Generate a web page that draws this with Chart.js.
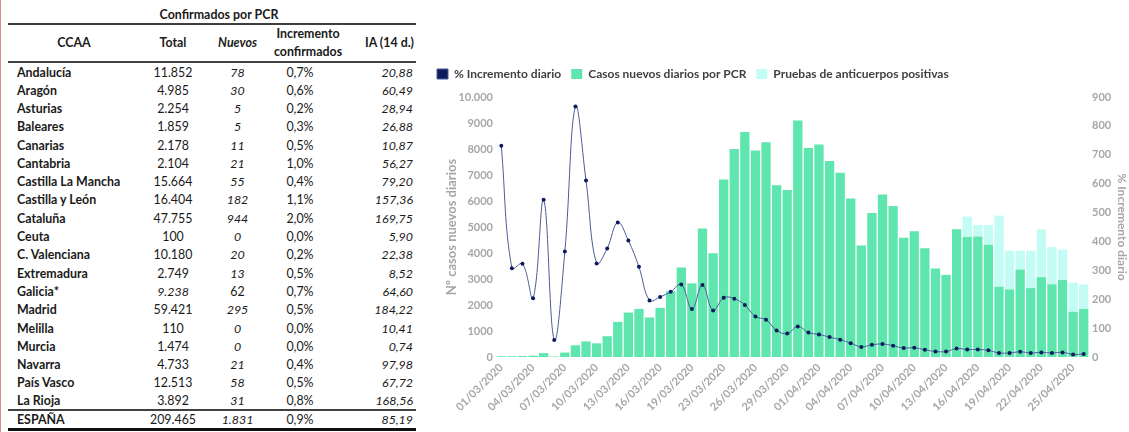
<!DOCTYPE html>
<html>
<head>
<meta charset="utf-8">
<script src="https://cdn.jsdelivr.net/npm/chart.js@4.4.1/dist/chart.umd.min.js"></script>
<style>
  html, body { margin: 0; padding: 0; background: #fff; }
  body { width: 1129px; height: 432px; position: relative; overflow: hidden; font-family: Lato, "Open Sans", sans-serif; }
  #marco { position: absolute; left: 0; top: 0; width: 1px; height: 432px; background: #d98b8b; }
  #titulo { position: absolute; left: 119px; top: 7px; width: 200px; text-align: center; font-weight: bold; font-size: 12.4px; color: #1a1a1a; }
  table { position: absolute; left: 8px; top: 23px; width: 408px; border-collapse: collapse; table-layout: fixed; font-size: 12.4px; color: #1a1a1a; }
  thead tr { height: 38px; border-top: 2px solid #404040; border-bottom: 2px solid #404040; }
  thead th { font-weight: bold; line-height: 18px; padding: 0; }
  tbody tr { height: 18.3px; }
  td { padding: 0; line-height: 17px; white-space: nowrap; }
  td.n { font-weight: bold; padding-left: 9px; }
  td.t { text-align: center; }
  td.nv { text-align: center; font-style: italic; }
  td.inc { text-align: center; padding-right: 32px; }
  td.ia { text-align: right; font-style: italic; padding-right: 3px; }
  tfoot tr { height: 16px; border-top: 2px solid #404040; border-bottom: 3px solid #111; }
  tbody tr:first-child td { padding-top: 1px; }
  #grafico { position: absolute; left: 427px; top: 58px; }
</style>
</head>
<body>
<div id="marco"></div>
<div id="titulo">Confirmados por PCR</div>
<table>
  <colgroup><col style="width:132px"><col style="width:66px"><col style="width:63px"><col style="width:94px"><col style="width:53px"></colgroup>
  <thead>
    <tr><th>CCAA</th><th>Total</th><th><i>Nuevos</i></th><th style="padding-right:16px">Incremento<br>confirmados</th><th>IA (14 d.)</th></tr>
  </thead>
  <tbody>
    <tr><td class="n">Andalucía</td><td class="t">11.852</td><td class="nv">78</td><td class="inc">0,7%</td><td class="ia">20,88</td></tr>
    <tr><td class="n">Aragón</td><td class="t">4.985</td><td class="nv">30</td><td class="inc">0,6%</td><td class="ia">60,49</td></tr>
    <tr><td class="n">Asturias</td><td class="t">2.254</td><td class="nv">5</td><td class="inc">0,2%</td><td class="ia">28,94</td></tr>
    <tr><td class="n">Baleares</td><td class="t">1.859</td><td class="nv">5</td><td class="inc">0,3%</td><td class="ia">26,88</td></tr>
    <tr><td class="n">Canarias</td><td class="t">2.178</td><td class="nv">11</td><td class="inc">0,5%</td><td class="ia">10,87</td></tr>
    <tr><td class="n">Cantabria</td><td class="t">2.104</td><td class="nv">21</td><td class="inc">1,0%</td><td class="ia">56,27</td></tr>
    <tr><td class="n">Castilla La Mancha</td><td class="t">15.664</td><td class="nv">55</td><td class="inc">0,4%</td><td class="ia">79,20</td></tr>
    <tr><td class="n">Castilla y León</td><td class="t">16.404</td><td class="nv">182</td><td class="inc">1,1%</td><td class="ia">157,36</td></tr>
    <tr><td class="n">Cataluña</td><td class="t">47.755</td><td class="nv">944</td><td class="inc">2,0%</td><td class="ia">169,75</td></tr>
    <tr><td class="n">Ceuta</td><td class="t">100</td><td class="nv">0</td><td class="inc">0,0%</td><td class="ia">5,90</td></tr>
    <tr><td class="n">C. Valenciana</td><td class="t">10.180</td><td class="nv">20</td><td class="inc">0,2%</td><td class="ia">22,38</td></tr>
    <tr><td class="n">Extremadura</td><td class="t">2.749</td><td class="nv">13</td><td class="inc">0,5%</td><td class="ia">8,52</td></tr>
    <tr><td class="n">Galicia*</td><td class="t"><i>9.238</i></td><td class="t">62</td><td class="inc">0,7%</td><td class="ia">64,60</td></tr>
    <tr><td class="n">Madrid</td><td class="t">59.421</td><td class="nv">295</td><td class="inc">0,5%</td><td class="ia">184,22</td></tr>
    <tr><td class="n">Melilla</td><td class="t">110</td><td class="nv">0</td><td class="inc">0,0%</td><td class="ia">10,41</td></tr>
    <tr><td class="n">Murcia</td><td class="t">1.474</td><td class="nv">0</td><td class="inc">0,0%</td><td class="ia">0,74</td></tr>
    <tr><td class="n">Navarra</td><td class="t">4.733</td><td class="nv">21</td><td class="inc">0,4%</td><td class="ia">97,98</td></tr>
    <tr><td class="n">País Vasco</td><td class="t">12.513</td><td class="nv">58</td><td class="inc">0,5%</td><td class="ia">67,72</td></tr>
    <tr><td class="n">La Rioja</td><td class="t">3.892</td><td class="nv">31</td><td class="inc">0,8%</td><td class="ia">168,56</td></tr>
  </tbody>
  <tfoot>
    <tr><td class="n">ESPAÑA</td><td class="t">209.465</td><td class="nv">1.831</td><td class="inc">0,9%</td><td class="ia">85,19</td></tr>
  </tfoot>
</table>
<canvas id="grafico" width="702" height="374"></canvas>
<script>
// fechas del eje x (falta el 22/03 en el original)
const fechas = [
  '01/03/2020', '02/03/2020', '03/03/2020', '04/03/2020', '05/03/2020', '06/03/2020', '07/03/2020',
  '08/03/2020', '09/03/2020', '10/03/2020', '11/03/2020', '12/03/2020', '13/03/2020', '14/03/2020',
  '15/03/2020', '16/03/2020', '17/03/2020', '18/03/2020', '19/03/2020', '20/03/2020', '21/03/2020',
  '23/03/2020', '24/03/2020', '25/03/2020', '26/03/2020', '27/03/2020', '28/03/2020', '29/03/2020',
  '30/03/2020', '31/03/2020', '01/04/2020', '02/04/2020', '03/04/2020', '04/04/2020', '05/04/2020',
  '06/04/2020', '07/04/2020', '08/04/2020', '09/04/2020', '10/04/2020', '11/04/2020', '12/04/2020',
  '13/04/2020', '14/04/2020', '15/04/2020', '16/04/2020', '17/04/2020', '18/04/2020', '19/04/2020',
  '20/04/2020', '21/04/2020', '22/04/2020', '23/04/2020', '24/04/2020', '25/04/2020', '26/04/2020'
];

const casosPCR = [
  30, 30, 40, 50, 150, 20, 170, 450, 600, 525, 800, 1350, 1710, 1850,
  1520, 1890, 2530, 3440, 2830, 4940, 3990, 6830, 8000, 8650, 7940, 8260,
  6610, 6420, 9100, 8040, 8170, 7540, 7090, 6100, 4290, 5540, 6250, 5810,
  4590, 4840, 4180, 3400, 3160, 4910, 4620, 4630, 4320, 2700, 2600, 3370,
  2650, 3070, 2800, 2960, 1740, 1850
];

const anticuerpos = [
  0, 0, 0, 0, 0, 0, 0, 0, 0, 0, 0, 0, 0, 0,
  0, 0, 0, 0, 0, 0, 0, 0, 0, 0, 0, 0, 0, 0,
  0, 0, 0, 0, 0, 0, 0, 0, 0, 0, 0, 0, 0, 0,
  0, 0, 780, 450, 760, 2740, 1490, 720, 1440, 1840, 1430, 1170, 1120, 940
];

const incremento = [
  731, 307, 323, 203, 544, 59, 365, 867, 611, 324, 376, 466, 403, 312,
  196, 208, 226, 251, 166, 249, 161, 205, 202, 180, 140, 129, 92, 81,
  106, 85, 78, 69, 60, 48, 35, 42, 45, 39, 31, 32, 25, 19, 19, 29,
  26, 26, 23, 14, 14, 18, 14, 16, 14, 16, 9, 10
];

const gris = '#a6a6a6';
const fuente = 'Lato, "Open Sans", sans-serif';

// deja algo mas de aire entre la leyenda y el grafico
const margenLeyenda = {
  id: 'margenLeyenda',
  beforeInit(chart) {
    const fitOriginal = chart.legend.fit;
    chart.legend.fit = function () {
      fitOriginal.bind(chart.legend)();
      this.height += 7;
    };
  }
};

new Chart(document.getElementById('grafico'), {
  type: 'bar',
  data: {
    labels: fechas,
    datasets: [
      {
        type: 'line',
        label: '% Incremento diario',
        data: incremento,
        yAxisID: 'y1',
        borderColor: '#4c5b98',
        backgroundColor: '#0e1b5c',
        borderWidth: 1,
        pointRadius: 2,
        pointBackgroundColor: '#0e1b5c',
        pointBorderColor: '#0e1b5c',
        pointBorderWidth: 0,
        tension: 0.4,
        order: 0
      },
      {
        label: 'Casos nuevos diarios por PCR',
        data: casosPCR,
        yAxisID: 'y',
        backgroundColor: '#5fe6ae',
        barPercentage: 0.88,
        categoryPercentage: 1,
        order: 1
      },
      {
        label: 'Pruebas de anticuerpos positivas',
        data: anticuerpos,
        yAxisID: 'y',
        backgroundColor: '#c3fcf5',
        barPercentage: 0.88,
        categoryPercentage: 1,
        order: 2
      }
    ]
  },
  plugins: [margenLeyenda],
  options: {
    responsive: false,
    animation: false,
    devicePixelRatio: 1,
    layout: { padding: 0 },
    plugins: {
      legend: {
        position: 'top',
        align: 'start',
        labels: {
          boxWidth: 11,
          boxHeight: 10,
          padding: 10,
          color: '#404040',
          font: { family: fuente, size: 12, weight: 'bold' }
        }
      },
      tooltip: { enabled: false }
    },
    scales: {
      x: {
        stacked: true,
        grid: { display: false, drawTicks: false },
        border: { display: false },
        ticks: {
          autoSkip: false,
          maxRotation: 45,
          minRotation: 45,
          padding: 4,
          color: gris,
          font: { family: fuente, size: 11, weight: 'bold' },
          callback: (v, i) => (i % 3 === 0 ? fechas[i] : '')
        },
        afterFit: s => { s.height = 75; }
      },
      y: {
        stacked: true,
        min: 0,
        max: 10000,
        grid: { display: false, drawTicks: false },
        border: { display: false },
        ticks: {
          stepSize: 1000,
          padding: 3,
          color: gris,
          font: { family: fuente, size: 11, weight: 'bold' },
          callback: v => (v === 10000 ? '10.000' : v)
        },
        title: {
          display: true,
          text: 'Nº casos nuevos diarios',
          color: gris,
          padding: { top: 17, bottom: 4 },
          font: { family: fuente, size: 13, weight: 'bold' }
        },
        afterFit: s => { s.width = 69; }
      },
      y1: {
        position: 'right',
        min: 0,
        max: 900,
        grid: { display: false, drawTicks: false },
        border: { display: false },
        ticks: {
          stepSize: 100,
          padding: 3,
          color: gris,
          font: { family: fuente, size: 11, weight: 'bold' }
        },
        title: {
          display: true,
          text: '% Incremento diario',
          color: gris,
          padding: 0,
          font: { family: fuente, size: 12, weight: 'bold' }
        },
        afterFit: s => { s.width = 40; }
      }
    }
  }
});
</script>
</body>
</html>
